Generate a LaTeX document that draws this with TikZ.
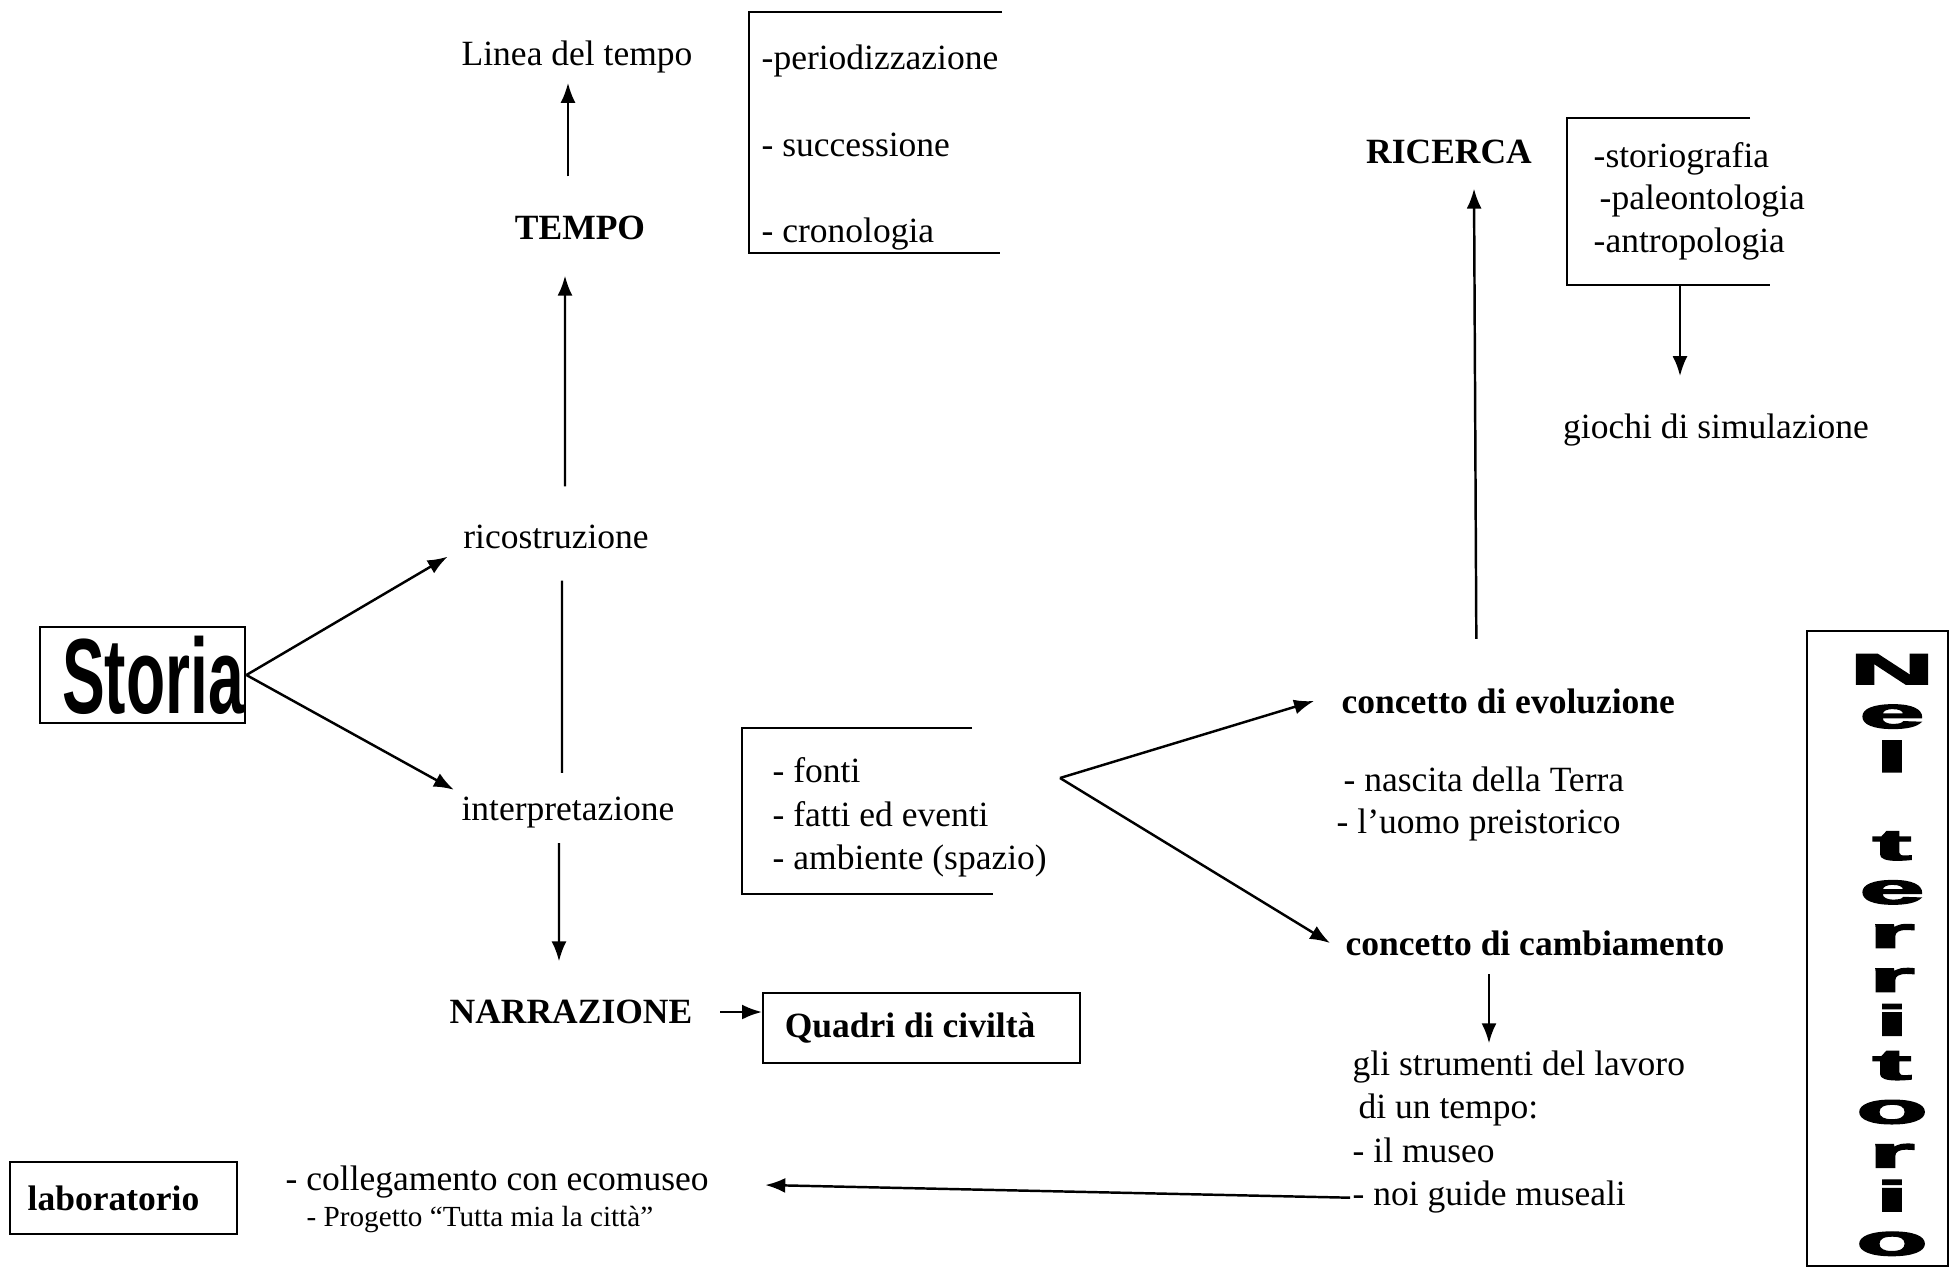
\documentclass[tikz,border=0pt]{standalone}
\usepackage{fontspec}
\setmainfont{Liberation Serif}
\newfontfamily\headfont{Liberation Sans}
\newfontfamily\blockfont[FakeBold=3]{Liberation Sans}
\usetikzlibrary{arrows.meta}
\newcommand{\wide}[1]{\scalebox{2.7}[1]{#1}}

\begin{document}
\begin{tikzpicture}[
    every node/.style={font=\fontsize{10.1}{12.2}\selectfont, inner sep=0.07cm},
    bold/.style={font=\fontsize{10.1}{12.2}\selectfont\bfseries},
    frame/.style={line width=0.6pt}]
  \useasboundingbox (0,0) rectangle (19.58,-12.79);

  % left column
  \begin{scope}
    \node[draw, line width=0.8pt, minimum width=2.05cm, minimum height=0.96cm,
      inner sep=0] (storia) at (1.425,-6.75)
    {\hspace*{0.21cm}\scalebox{0.6}[1]{\fontsize{30.4}{32}\selectfont\headfont\bfseries Storia}};
    \node (linea) at (5.77,-0.57) {Linea del tempo};
    \node[bold] (tempo) at (5.80,-2.28) {TEMPO};
    \node (rico) at (5.56,-5.37) {ricostruzione};
    \node (interp) at (5.68,-8.13) {interpretazione};
    \node[bold] (narr) at (5.71,-10.12) {NARRAZIONE};
    \node[bold, draw, line width=0.6pt, anchor=west, minimum width=3.17cm,
      minimum height=0.70cm, inner xsep=0.2cm] (quadri) at (7.62,-10.28)
    {Quadri di civiltà\hspace*{0.23cm}};
  \end{scope}

  % open boxes
  \begin{scope}
    \node[anchor=north west, align=left, inner xsep=0.12cm, inner ysep=0,
      font=\fontsize{10.1}{24.6}\selectfont] (periodi) at (7.49,-0.12)
    {\rule{0pt}{0.57cm}-periodizzazione\\- successione\\- cronologia\rule[-0.10cm]{0pt}{0.10cm}};
    \node[anchor=north west, align=left, inner xsep=0.30cm, inner ysep=0,
      font=\fontsize{10.1}{12.4}\selectfont] (fonti) at (7.42,-7.28)
    {\rule{0pt}{0.54cm}- fonti\\- fatti ed eventi\\- ambiente (spazio)\rule[-0.23cm]{0pt}{0.23cm}};
    \node[anchor=north west, align=left, inner xsep=0.26cm, inner ysep=0,
      font=\fontsize{10.1}{12}\selectfont] (storio) at (15.67,-1.18)
    {\rule{0pt}{0.49cm}-storiografia\\\hspace*{0.06cm}-paleontologia\\-antropologia\rule[-0.32cm]{0pt}{0.32cm}};
  \end{scope}
  \draw[frame] ([xshift=2.53cm]periodi.north west) -- (periodi.north west)
    -- (periodi.south west) -- ([xshift=2.51cm]periodi.south west);
  \draw[frame] ([xshift=2.30cm]fonti.north west) -- (fonti.north west)
    -- (fonti.south west) -- ([xshift=2.51cm]fonti.south west);
  \draw[frame] ([xshift=1.83cm]storio.north west) -- (storio.north west)
    -- (storio.south west) -- ([xshift=2.03cm]storio.south west);

  % right part
  \begin{scope}
    \node[bold] (ricerca) at (14.49,-1.52) {RICERCA};
    \node (giochi) at (17.16,-4.30) {giochi di simulazione};
    \node[bold, anchor=west] (evol) at (13.34,-7.01) {concetto di evoluzione};
    \node[anchor=west, align=left] (evolist) at (13.29,-8.04)
    {\hspace*{0.07cm}- nascita della Terra\\- l’uomo preistorico};
    \node[bold, anchor=west] (cambi) at (13.38,-9.43) {concetto di cambiamento};
    \node[anchor=west, align=left, font=\fontsize{10.1}{12.3}\selectfont] (strum) at (13.45,-11.32)
    {gli strumenti del lavoro\\\hspace*{0.06cm}di un tempo:\\- il museo\\- noi guide museali};
  \end{scope}

  % bottom row
  \node[draw, bold, line width=0.6pt, minimum width=2.27cm, minimum height=0.72cm]
  (labo) at (1.235,-11.98) {laboratorio\hspace*{0.2cm}};
  \node[anchor=west] (colleg) at (2.78,-11.82) {- collegamento con ecomuseo};
  \node[anchor=west, font=\fontsize{8.3}{10}\selectfont] (progetto) at (2.99,-12.19)
  {- Progetto “Tutta mia la città”};

  % side banner
  \node[draw, line width=0.6pt, minimum width=1.41cm, minimum height=6.35cm,
    inner sep=0] (terr) at (18.775,-9.485) {};
  \node[align=center, inner sep=0,
    font=\fontsize{12.3}{12.5}\selectfont\blockfont\bfseries] (terrtxt) at (18.92,-9.55)
  {\wide{N}\\\wide{e}\\\wide{l}\\\mbox{}\\\wide{t}\\\wide{e}\\\wide{r}\\\wide{r}\\
    \wide{i}\\\wide{t}\\\wide{o}\\\wide{r}\\\wide{i}\\\wide{o}};

  \coordinate (fork) at ([shift={(3.18,-0.50)}]fonti.north west);
  \coordinate (cdown) at ([shift={(-0.46,-0.11)}]cambi.south);

  \draw[line width=0.7pt] ([shift={(0.06,-0.24)}]rico.south)
    -- ([shift={(-0.06,0.17)}]interp.north);
  \begin{scope}[-{Latex[length=0.2cm,width=0.15cm]}, line width=0.7pt]
    \draw (storia.east) -- ([xshift=-0.08cm]rico.south west);
    \draw (storia.east) -- (interp.north west);
    \draw ([shift={(0.09,0.31)}]rico.north) -- ([shift={(-0.15,-0.28)}]tempo.south);
    \draw ([shift={(-0.12,0.32)}]tempo.north) -- ([shift={(-0.09,-0.02)}]linea.south);
    \draw ([shift={(-0.09,-0.07)}]interp.south) -- ([shift={(-0.12,0.31)}]narr.north);
    \draw ([xshift=0.2cm]narr.east) -- (narr.east -| quadri.west);
    \draw (fork) -- ([xshift=-0.2cm]evol.west);
    \draw (fork) -- ([xshift=-0.08cm]cambi.west);
    \draw ([shift={(-0.32,0.42)}]evol.north) -- ([shift={(0.25,-0.17)}]ricerca.south);
    \draw ([xshift=1.13cm]storio.south west) -- ([shift={(-0.36,0.30)}]giochi.north);
    \draw (cdown) -- (cdown |- strum.north);
    \draw ([shift={(0.05,0.23)}]strum.south west) -- ([shift={(0.49,-0.03)}]colleg.east);
  \end{scope}
\end{tikzpicture}
\end{document}
